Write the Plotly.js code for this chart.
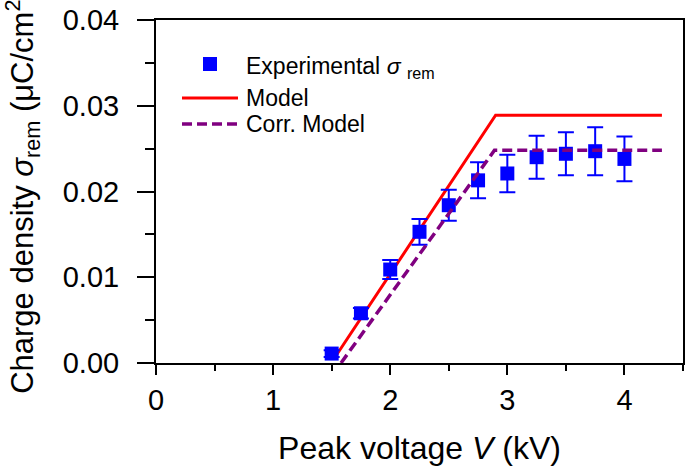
<!DOCTYPE html>
<html><head><meta charset="utf-8">
<script src="https://cdn.plot.ly/plotly-3.0.1.min.js"></script>
<style>html,body{margin:0;padding:0;background:#fff}</style></head>
<body><div id="chart" style="width:685px;height:474px"></div>
<script>
// ---- data ----
const voltage   = [1.5, 1.75, 2.0, 2.25, 2.5, 2.75, 3.0, 3.25, 3.5, 3.75, 4.0];
const sigmaExp  = [0.0011, 0.0058, 0.0109, 0.0153, 0.0184, 0.0213, 0.0221, 0.0240, 0.0244, 0.0247, 0.0238];
const sigmaErr  = [0.0004, 0.0006, 0.0011, 0.0015, 0.0018, 0.0021, 0.0022, 0.0025, 0.0025, 0.0028, 0.0026];
const modelV     = [1.52, 2.90, 4.32];
const modelSigma = [0.0005, 0.0289, 0.0289];
const corrV      = [1.58, 2.89, 4.32];
const corrSigma  = [0.0, 0.0248, 0.0248];
const seriesNames = ['Experimental <i>σ</i> <sub>rem</sub>', 'Model', 'Corr. Model'];
const xTitle = 'Peak voltage <i>V</i> (kV)';
const yTitle = 'Charge density <i>σ</i><sub>rem</sub> (μC/cm<sup>2</sup>)';

const FONT = '"Liberation Sans", Arial, Helvetica, sans-serif';
const W = 685, H = 474;
const M = {l: 156, r: 2, t: 20, b: 111};
const pw = W - M.l - M.r, ph = H - M.t - M.b;
const px = x => (x - M.l) / pw;          // pixel -> paper
const py = y => (H - M.b - y) / ph;

const BLUE = '#0000ff', RED = '#ff0000', PURPLE = '#800080';

const traces = [
  {x: modelV, y: modelSigma, type: 'scatter', mode: 'lines', name: seriesNames[1],
   line: {color: RED, width: 3}, showlegend: false, hoverinfo: 'skip'},
  {x: voltage, y: sigmaExp, type: 'scatter', mode: 'markers', name: seriesNames[0],
   marker: {symbol: 'square', size: 14, color: BLUE},
   error_y: {type: 'data', array: sigmaErr, visible: true, color: BLUE, thickness: 2, width: 8},
   showlegend: false},
  {x: corrV, y: corrSigma, type: 'scatter', mode: 'lines', name: seriesNames[2],
   line: {color: PURPLE, width: 3.5, dash: '10px,5px'}, showlegend: false, hoverinfo: 'skip'}
];

// hand-built legend (pixel positions -> paper coords)
const legRows = [64, 98, 124];
const legLineX = [182, 238], legSymX = 210, legTextX = 244;
const shapes = [
  {type: 'rect', xref: 'paper', yref: 'paper', xsizemode: 'pixel', ysizemode: 'pixel',
   xanchor: px(legSymX), yanchor: py(legRows[0]), x0: -7, x1: 7, y0: -7, y1: 7,
   fillcolor: BLUE, line: {width: 0}},
  {type: 'line', xref: 'paper', yref: 'paper', x0: px(legLineX[0]), x1: px(legLineX[1]),
   y0: py(legRows[1]), y1: py(legRows[1]), line: {color: RED, width: 3}},
  {type: 'line', xref: 'paper', yref: 'paper', x0: px(legLineX[0]), x1: px(legLineX[1]),
   y0: py(legRows[2]), y1: py(legRows[2]), line: {color: PURPLE, width: 3.5, dash: '10px,5px'}}
];
const annotations = seriesNames.map((t, i) => ({
  text: t, xref: 'paper', yref: 'paper', x: px(legTextX), y: py(legRows[i] + (i === 0 ? 4 : 0)),
  xanchor: 'left', yanchor: 'middle', showarrow: false, font: {family: FONT, size: 23, color: '#000'}
}));

const axisCommon = {
  showgrid: false, zeroline: false, showline: true, linecolor: '#000', linewidth: 2, mirror: true,
  ticks: 'outside', tickcolor: '#000', tickwidth: 2,
  tickfont: {family: FONT, size: 29, color: '#000'}
};

const layout = {
  width: W, height: H, margin: M, paper_bgcolor: '#fff', plot_bgcolor: '#fff',
  font: {family: FONT, color: '#000'},
  showlegend: false,
  xaxis: Object.assign({}, axisCommon, {
    range: [0, 4.5], tick0: 0, dtick: 1, ticklen: 10,
    minor: {dtick: 0.5, ticks: 'outside', ticklen: 6, tickwidth: 2, tickcolor: '#000', showgrid: false},
    title: {text: xTitle, font: {family: FONT, size: 32, color: '#000'}, standoff: 22}
  }),
  yaxis: Object.assign({}, axisCommon, {
    range: [0, 0.04], tick0: 0, dtick: 0.01, tickformat: '.2f', ticklen: 17,
    ticklabelstandoff: 12,
    minor: {dtick: 0.005, ticks: 'outside', ticklen: 9, tickwidth: 2, tickcolor: '#000', showgrid: false},
    title: {text: yTitle, font: {family: FONT, size: 31, color: '#000'}, standoff: 20}
  }),
  shapes: shapes,
  annotations: annotations
};

Plotly.newPlot('chart', traces, layout, {staticPlot: true, displayModeBar: false});
</script></body></html>
